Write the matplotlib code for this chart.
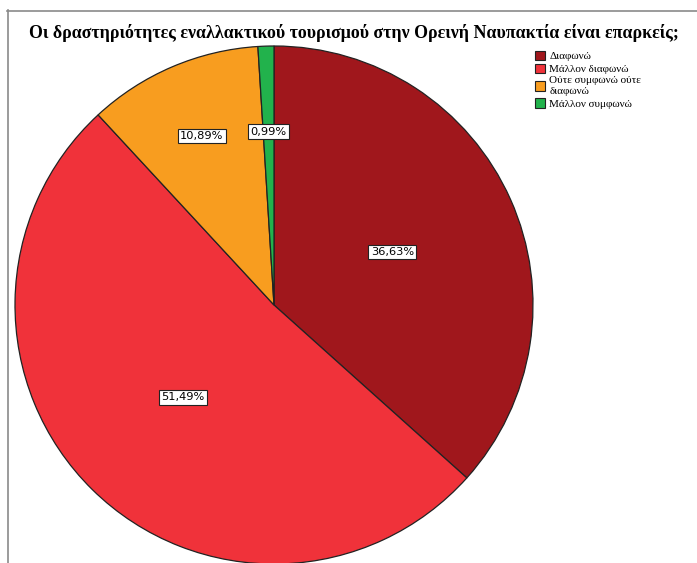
import numpy as np
import matplotlib.pyplot as plt
from matplotlib.lines import Line2D

# Answer counts (n = 101)
labels = ['Διαφωνώ', 'Μάλλον διαφωνώ', 'Ούτε συμφωνώ ούτε\nδιαφωνώ', 'Μάλλον συμφωνώ']
counts = [37, 52, 11, 1]
colors = ['#A0171C', '#F0323A', '#F89D1F', '#22B24C']
title = 'Οι δραστηριότητες εναλλακτικού τουρισμού στην Ορεινή Ναυπακτία είναι επαρκείς;'

W, H = 697, 563
fig = plt.figure(figsize=(W / 100, H / 100), dpi=100)

# pie centre (274, 305) px, radius 259 px
cx, cy, r = 274, 305, 259
ax = fig.add_axes([(cx - r) / W, (H - cy - r) / H, 2 * r / W, 2 * r / H])

total = sum(counts)
wedges, _ = ax.pie(counts, colors=colors, startangle=90, counterclock=False,
                   radius=1.0, wedgeprops=dict(edgecolor='#222222', linewidth=0.9))
ax.set_xlim(-1, 1)
ax.set_ylim(-1, 1)
ax.set_aspect('equal')
ax.axis('off')

# percentage labels, small slices pushed further out
dist = [0.5, 0.5, 0.71, 0.67]
for w, c, d in zip(wedges, counts, dist):
    ang = np.deg2rad((w.theta1 + w.theta2) / 2)
    txt = f'{100 * c / total:.2f}%'.replace('.', ',')
    ax.text(d * np.cos(ang), d * np.sin(ang), txt, ha='center', va='center',
            fontsize=8.2, family='DejaVu Sans',
            bbox=dict(boxstyle='square,pad=0.2', fc='white', ec='#222222', lw=0.8))

fig.text(354 / W, 1 - 33 / H, title, ha='center', va='center',
         fontsize=12.9, fontweight='bold', family='Liberation Serif')

# outer frame lines
fig.add_artist(Line2D([7.5 / W, 7.5 / W], [0, 1 - 10 / H], color='#8a8a8a', lw=1.2,
                      transform=fig.transFigure))
fig.add_artist(Line2D([7 / W, 1], [1 - 10.5 / H, 1 - 10.5 / H], color='#8a8a8a', lw=1.2,
                      transform=fig.transFigure))

leg = fig.legend(wedges, labels, loc='upper left', bbox_to_anchor=(527 / W, 1 - 43 / H),
                 frameon=False, prop={'family': 'Liberation Serif', 'size': 8},
                 handlelength=0.9, handleheight=0.95, handletextpad=0.4,
                 labelspacing=0.2, borderpad=0.2)
for h in leg.legend_handles:
    h.set_edgecolor('#222222')
    h.set_linewidth(0.8)

fig.savefig('out.png', dpi=100)
